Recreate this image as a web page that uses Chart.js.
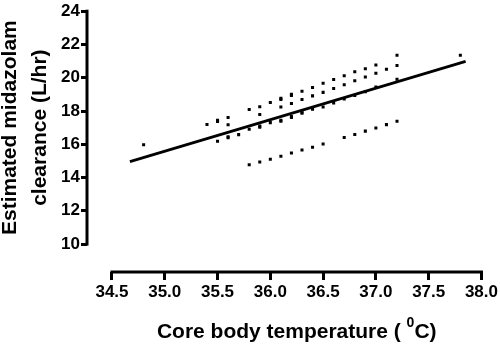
<!DOCTYPE html>
<html><head><meta charset="utf-8">
<script src="https://cdn.jsdelivr.net/npm/chart.js@4/dist/chart.umd.min.js"></script>
<style>html,body{margin:0;padding:0;background:#fff}#wrap{width:500px;height:345px;position:relative}</style>
</head><body><div id="wrap"><canvas id="c"></canvas></div>
<script>
// Observed points: core body temperature (°C) and estimated midazolam clearance (L/hr)
const temps = [
  34.8,
  35.4,
  35.5, 35.5, 35.5,
  35.6, 35.6, 35.6, 35.6,
  35.7,
  35.8, 35.8, 35.8,
  35.9, 35.9, 35.9, 35.9, 35.9,
  36.0, 36.0, 36.0,
  36.1, 36.1, 36.1, 36.1, 36.1, 36.1,
  36.2, 36.2, 36.2, 36.2, 36.2, 36.2,
  36.3, 36.3, 36.3, 36.3, 36.3,
  36.4, 36.4, 36.4, 36.4,
  36.5, 36.5, 36.5, 36.5,
  36.6, 36.6, 36.6,
  36.7, 36.7, 36.7, 36.7,
  36.8, 36.8, 36.8, 36.8,
  36.9, 36.9, 36.9, 36.9,
  37.0, 37.0, 37.0, 37.0,
  37.1, 37.1,
  37.2, 37.2, 37.2, 37.2,
  37.8
];
const clearance = [
  15.97,
  17.19,
  17.44, 17.37, 16.18,
  17.61, 17.17, 16.45, 16.39,
  16.58,
  18.09, 16.90, 14.77,
  18.25, 17.79, 17.09, 17.03, 14.94,
  18.51, 17.30, 15.10,
  18.76, 18.70, 18.24, 17.45, 17.39, 15.28,
  19.00, 18.94, 18.45, 17.67, 17.61, 15.47,
  19.19, 18.69, 17.93, 17.87, 15.65,
  19.41, 18.91, 18.10, 15.82,
  19.67, 19.12, 18.24, 16.01,
  19.89, 19.35, 18.48,
  20.12, 19.58, 18.72, 16.41,
  20.36, 19.82, 18.93, 16.59,
  20.54, 20.04, 19.16, 16.79,
  20.77, 20.27, 19.44, 16.98,
  20.51, 17.18,
  21.35, 20.74, 19.91, 17.38,
  21.35
];
// Regression line end points
const fitTemps = [34.67, 37.85];
const fitClearance = [14.96, 20.98];
// Axis ticks
const xTicks = [34.5, 35.0, 35.5, 36.0, 36.5, 37.0, 37.5, 38.0];
const yTicks = [10, 12, 14, 16, 18, 20, 22, 24];
// Titles
const xTitleMain = 'Core body temperature ( ';
const xTitleSup = '0';
const xTitleEnd = 'C)';
const yTitleLines = ['Estimated midazolam', 'clearance (L/hr)'];

const FONT = '"Liberation Sans", Arial, sans-serif';
Chart.defaults.font.family = FONT;
Chart.defaults.font.weight = 'bold';
Chart.defaults.font.size = 17;
Chart.defaults.color = '#000';

const axesPlugin = {
  id: 'axesAndTitles',
  afterDraw(chart) {
    const ctx = chart.ctx;
    const xs = chart.scales.x, ys = chart.scales.y;
    const ca = chart.chartArea;
    const x0 = xs.getPixelForValue(xTicks[0]);
    const x1 = xs.getPixelForValue(xTicks[xTicks.length - 1]);
    const y0 = ys.getPixelForValue(yTicks[0]);
    const y1 = ys.getPixelForValue(yTicks[yTicks.length - 1]);
    ctx.save();
    ctx.strokeStyle = '#000';
    ctx.lineWidth = 3;
    ctx.lineCap = 'butt';
    ctx.beginPath();
    ctx.moveTo(x0 - 1.5, ca.bottom);
    ctx.lineTo(x1 + 1.5, ca.bottom);
    ctx.stroke();
    ctx.beginPath();
    ctx.moveTo(ca.left, y0 + 1.5);
    ctx.lineTo(ca.left, y1 - 1.5);
    ctx.stroke();

    // x title with superscript
    ctx.fillStyle = '#000';
    ctx.textBaseline = 'alphabetic';
    ctx.textAlign = 'left';
    const mainFont = 'bold 21px ' + FONT;
    const supFont = 'bold 14px ' + FONT;
    ctx.font = mainFont;
    const w1 = ctx.measureText(xTitleMain).width;
    const w3 = ctx.measureText(xTitleEnd).width;
    ctx.font = supFont;
    const w2 = ctx.measureText(xTitleSup).width;
    const total = w1 + w2 + w3;
    const cx = (x0 + x1) / 2;
    let sx = cx - total / 2;
    const base = 338;
    ctx.font = mainFont;
    ctx.fillText(xTitleMain, sx, base);
    ctx.font = supFont;
    ctx.fillText(xTitleSup, sx + w1, base - 11);
    ctx.font = mainFont;
    ctx.fillText(xTitleEnd, sx + w1 + w2, base);

    // y title, two rotated lines
    const cy = (y0 + y1) / 2;
    const baselines = [15.7, 45.5];
    ctx.textAlign = 'center';
    yTitleLines.forEach((t, i) => {
      ctx.save();
      ctx.translate(baselines[i], cy);
      ctx.rotate(-Math.PI / 2);
      ctx.font = mainFont;
      ctx.fillText(t, 0, 0);
      ctx.restore();
    });
    ctx.restore();
  }
};

const tickFont = {family: FONT, size: 17, weight: 700};

new Chart(document.getElementById('c'), {
  type: 'scatter',
  data: {
    datasets: [
      {
        type: 'line',
        data: fitTemps.map((t, i) => ({x: t, y: fitClearance[i]})),
        borderColor: '#000',
        borderWidth: 2.8,
        pointRadius: 0,
        fill: false,
        tension: 0,
        order: 1
      },
      {
        type: 'scatter',
        data: temps.map((t, i) => ({x: t, y: clearance[i]})),
        pointStyle: 'rect',
        pointRadius: 2.15,
        pointBorderWidth: 0,
        borderWidth: 0,
        backgroundColor: '#000',
        pointBackgroundColor: '#000',
        order: 0
      }
    ]
  },
  options: {
    responsive: true,
    maintainAspectRatio: false,
    animation: false,
    devicePixelRatio: 1,
    layout: {padding: {top: 10, right: 18, left: 0, bottom: 0}},
    plugins: {legend: {display: false}, tooltip: {enabled: false}, title: {display: false}},
    scales: {
      x: {
        type: 'linear',
        min: 34.5 - 25 / 105.71,
        max: 38.0,
        afterBuildTicks: s => { s.ticks = xTicks.map(v => ({value: v})); },
        afterFit: s => { s.height = 73; },
        border: {display: false},
        grid: {drawOnChartArea: false, drawTicks: true, tickLength: 8, color: '#000', lineWidth: 3},
        ticks: {
          autoSkip: false, maxRotation: 0, minRotation: 0, padding: 2, color: '#000',
          font: tickFont,
          callback: v => Number(v).toFixed(1)
        }
      },
      y: {
        type: 'linear',
        min: 24 - 262 / 16.71,
        max: 24,
        afterBuildTicks: s => { s.ticks = yTicks.map(v => ({value: v})); },
        afterFit: s => { s.width = 87; },
        border: {display: false},
        grid: {drawOnChartArea: false, drawTicks: true, tickLength: 6, color: '#000', lineWidth: 3},
        ticks: {
          autoSkip: false, padding: 1, color: '#000',
          font: tickFont,
          callback: v => String(v)
        }
      }
    }
  },
  plugins: [axesPlugin]
});
</script>
</body></html>
